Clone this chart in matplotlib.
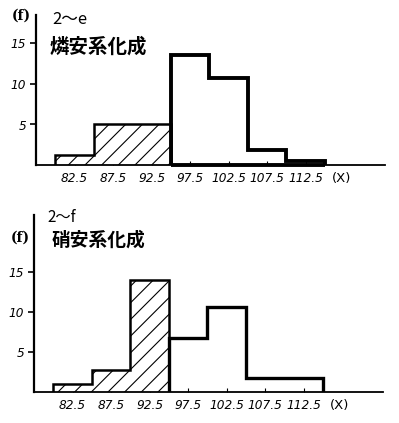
import matplotlib
matplotlib.use("Agg")
import matplotlib.pyplot as plt

# class boundaries and class marks (X)
bin_edges = [80, 85, 90, 95, 100, 105, 110, 115]
class_marks = ["82.5", "87.5", "92.5", "97.5", "102.5", "107.5", "112.5"]

# 2~e  燐安系化成  (frequencies)
freq_e = [1.2, 5, 5, 13.6, 10.7, 1.9, 0.5]
# 2~f  硝安系化成
freq_f = [1, 2.8, 14, 6.7, 10.6, 1.8, 1.8]
# first three classes are hatched in both panels
n_hatched = 3

yticks = [5, 10, 15]

W, H = 399, 423
fig = plt.figure(figsize=(W / 100, H / 100), dpi=100)
plt.rcParams["hatch.linewidth"] = 0.8

num_font = dict(family="DejaVu Sans", style="italic", fontsize=8.7)
cjk = ["Noto Sans CJK JP", "DejaVu Sans"]


def draw_hist(ax, freq, ymax, lw_open, thick_base):
    width = bin_edges[1] - bin_edges[0]
    # hatching, no edges -> outline drawn as steps below
    ax.bar(bin_edges[:n_hatched], freq[:n_hatched], width=width, align="edge",
           facecolor="white", edgecolor="black", linewidth=0, hatch="//", zorder=2)
    ax.stairs(freq[:n_hatched], bin_edges[:n_hatched + 1], baseline=0,
              color="black", linewidth=1.8, zorder=3)
    ax.stairs(freq[n_hatched:], bin_edges[n_hatched:], baseline=0,
              color="black", linewidth=lw_open, zorder=3)
    if thick_base:
        ax.hlines(0, bin_edges[n_hatched], bin_edges[-1], color="black",
                  linewidth=lw_open, zorder=3, clip_on=False)
    ax.set_xlim(77.5, 122.8)
    ax.set_ylim(0, ymax)
    for s in ["top", "right"]:
        ax.spines[s].set_visible(False)
    ax.spines["left"].set_linewidth(1.6)
    ax.spines["bottom"].set_linewidth(1.3)
    ax.set_yticks(yticks)
    ax.set_yticklabels([str(v) for v in yticks], **num_font)
    mids = [e + width / 2 for e in bin_edges[:-1]]
    ax.set_xticks(mids)
    ax.set_xticklabels(class_marks, **num_font)
    ax.tick_params(axis="y", direction="out", length=4, width=1.2, pad=3)
    ax.tick_params(axis="x", direction="in", length=3, width=0.8, pad=5)
    ax.annotate("(X)", xy=(mids[-1] + 4.6, 0), xycoords=("data", "axes fraction"),
                xytext=(0, -5), textcoords="offset points",
                ha="center", va="top", family="DejaVu Sans", fontsize=9.5)


# top panel
ax1 = fig.add_axes([36 / W, 1 - 165 / H, (385 - 36) / W, 150 / H])
draw_hist(ax1, freq_e, 150 / 8.1, 2.8, True)
fig.text(21 / W, 1 - 16 / H, "(f)", ha="center", va="center",
         family="DejaVu Serif", fontweight="bold", fontsize=10)
fig.text(52 / W, 1 - 20 / H, "2～e", ha="left", va="center",
         family=cjk, fontsize=12, style="italic")
fig.text(50 / W, 1 - 47 / H, "燐安系化成", ha="left", va="center",
         family=cjk, fontsize=14, fontweight="bold")

# bottom panel
ax2 = fig.add_axes([34 / W, 1 - 392 / H, (383 - 34) / W, 177 / H])
draw_hist(ax2, freq_f, 177 / 8.0, 2.4, False)
fig.text(20 / W, 1 - 238 / H, "(f)", ha="center", va="center",
         family="DejaVu Serif", fontweight="bold", fontsize=10)
fig.text(47 / W, 1 - 217 / H, "2～f", ha="left", va="center",
         family=cjk, fontsize=11)
fig.text(52 / W, 1 - 240 / H, "硝安系化成", ha="left", va="center",
         family=cjk, fontsize=13.5, fontweight="bold")

fig.savefig("out.png", dpi=100)
